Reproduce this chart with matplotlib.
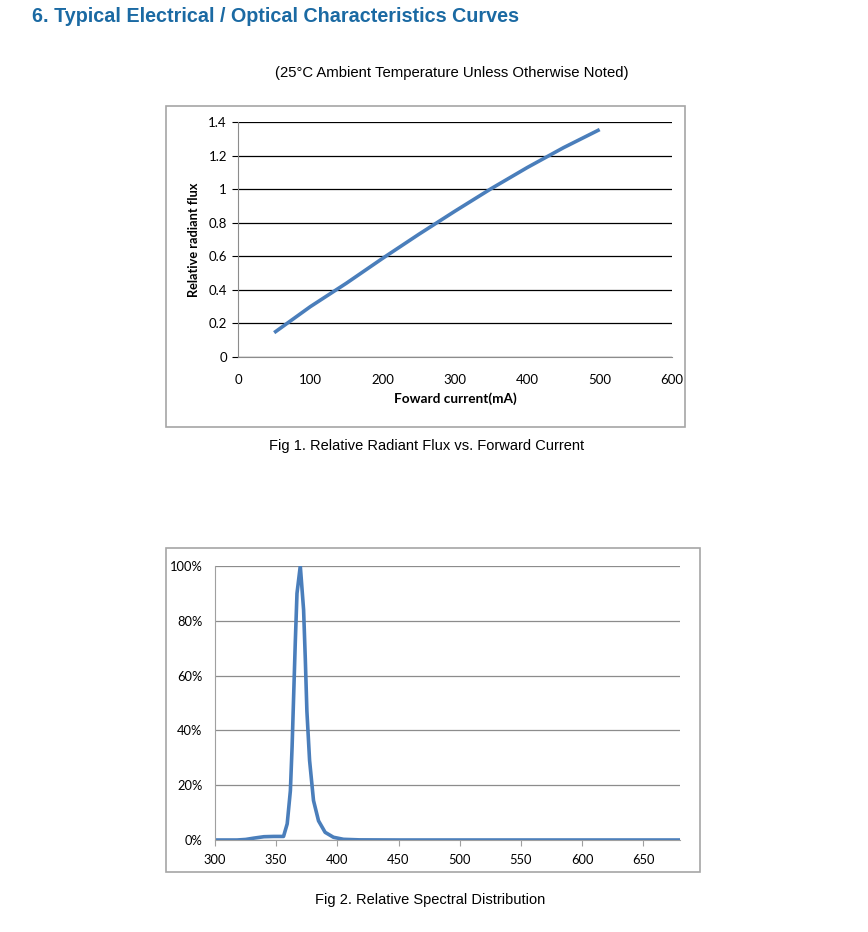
import matplotlib.pyplot as plt
from matplotlib.patches import Rectangle
from matplotlib.ticker import FuncFormatter

# Fig 1 data: relative radiant flux vs forward current
current_ma = [50, 100, 150, 200, 250, 300, 350, 400, 450, 500]
radiant_flux = [0.145, 0.30, 0.44, 0.588, 0.731, 0.869, 1.003, 1.129, 1.247, 1.355]

# Fig 2 data: relative spectral distribution (%)
wavelength_nm = [300, 318, 325, 332, 340, 348, 356, 359, 361.6, 363, 364.3, 365.6, 367,
                 369.7, 372.4, 373.8, 375.1, 377.3, 380.5, 384.6, 390, 396.8, 405, 418,
                 450, 500, 550, 600, 650, 680]
spectrum_pct = [0.0, 0.0, 0.2, 0.7, 1.2, 1.3, 1.3, 5.9, 18.0, 34.0, 53.0, 72.0, 90.0,
                100.0, 84.0, 66.0, 47.0, 29.0, 14.4, 7.0, 2.8, 1.0, 0.25, 0.05,
                0.0, 0.0, 0.0, 0.0, 0.0, 0.0]

W, H = 868, 932
LINE_BLUE = '#4a7ebb'
TITLE_BLUE = '#1b6aa3'
CHART_FONT = 'Lato'

fig = plt.figure(figsize=(W / 100, H / 100), dpi=100)


def fx(px):
    return px / W


def fy(py):
    return 1 - py / H


# Page texts
fig.text(fx(32), fy(17), '6. Typical Electrical / Optical Characteristics Curves',
         fontsize=14.2, fontweight='bold', color=TITLE_BLUE, family='Liberation Sans',
         va='center', ha='left')
fig.text(fx(452), fy(73), '(25\u00b0C Ambient Temperature Unless Otherwise Noted)',
         fontsize=10.7, family='Liberation Sans', va='center', ha='center')
fig.text(fx(427), fy(446), 'Fig 1. Relative Radiant Flux vs. Forward Current',
         fontsize=10.5, family='Liberation Sans', va='center', ha='center')
fig.text(fx(430), fy(900), 'Fig 2. Relative Spectral Distribution',
         fontsize=10.5, family='Liberation Sans', va='center', ha='center')

# Frame boxes around the charts
for (x0, y0, x1, y1) in [(166, 106, 685, 427), (166, 548, 700, 872)]:
    fig.patches.append(Rectangle((fx(x0), fy(y1)), fx(x1) - fx(x0), fy(y0) - fy(y1),
                                 transform=fig.transFigure, fill=False,
                                 edgecolor='#a6a6a6', linewidth=1.2))

# ---- Fig 1 ----
ax1 = fig.add_axes([fx(238), fy(357), fx(672) - fx(238), fy(122) - fy(357)])
ax1.plot(current_ma, radiant_flux, color=LINE_BLUE, linewidth=2.6, solid_capstyle='butt')
ax1.set_xlim(0, 600)
ax1.set_ylim(0, 1.4)
ax1.set_xticks(range(0, 601, 100))
ax1.set_yticks([0, 0.2, 0.4, 0.6, 0.8, 1.0, 1.2, 1.4])
ax1.set_yticklabels(['0', '0.2', '0.4', '0.6', '0.8', '1', '1.2', '1.4'])
ax1.yaxis.grid(True, color='black', linewidth=0.9)
ax1.set_axisbelow(True)
for side in ['top', 'right']:
    ax1.spines[side].set_visible(False)
ax1.spines['left'].set_color('#8c8c8c')
ax1.spines['bottom'].set_color('#8c8c8c')
ax1.tick_params(axis='y', length=4, color='black', labelsize=9.5, pad=4)
ax1.tick_params(axis='x', length=0, labelsize=9.5, pad=12)
for lbl in ax1.get_xticklabels() + ax1.get_yticklabels():
    lbl.set_family(CHART_FONT)
ax1.set_xlabel('Foward current(mA)', fontsize=9.8, fontweight='bold', family=CHART_FONT,
               labelpad=5)
ax1.set_ylabel('Relative radiant flux', fontsize=9.2, fontweight='bold', family=CHART_FONT,
               labelpad=6)

# ---- Fig 2 ----
ax2 = fig.add_axes([fx(215), fy(840), fx(680) - fx(215), fy(566) - fy(840)])
ax2.plot(wavelength_nm, spectrum_pct, color=LINE_BLUE, linewidth=2.6)
ax2.set_xlim(300, 680)
ax2.set_ylim(0, 100)
ax2.set_xticks(range(300, 651, 50))
ax2.set_yticks(range(0, 101, 20))
ax2.yaxis.set_major_formatter(FuncFormatter(lambda v, p: f'{int(v)}%'))
ax2.yaxis.grid(True, color='#8c8c8c', linewidth=0.9)
ax2.set_axisbelow(True)
for side in ['top', 'right']:
    ax2.spines[side].set_visible(False)
ax2.spines['left'].set_color('#a0a0a0')
ax2.spines['bottom'].set_color('#a0a0a0')
ax2.tick_params(axis='y', length=0, labelsize=9.3, pad=9)
ax2.tick_params(axis='x', length=4, color='#a0a0a0', labelsize=9.3, pad=6)
for lbl in ax2.get_xticklabels() + ax2.get_yticklabels():
    lbl.set_family(CHART_FONT)

fig.savefig('out.png', dpi=100)
